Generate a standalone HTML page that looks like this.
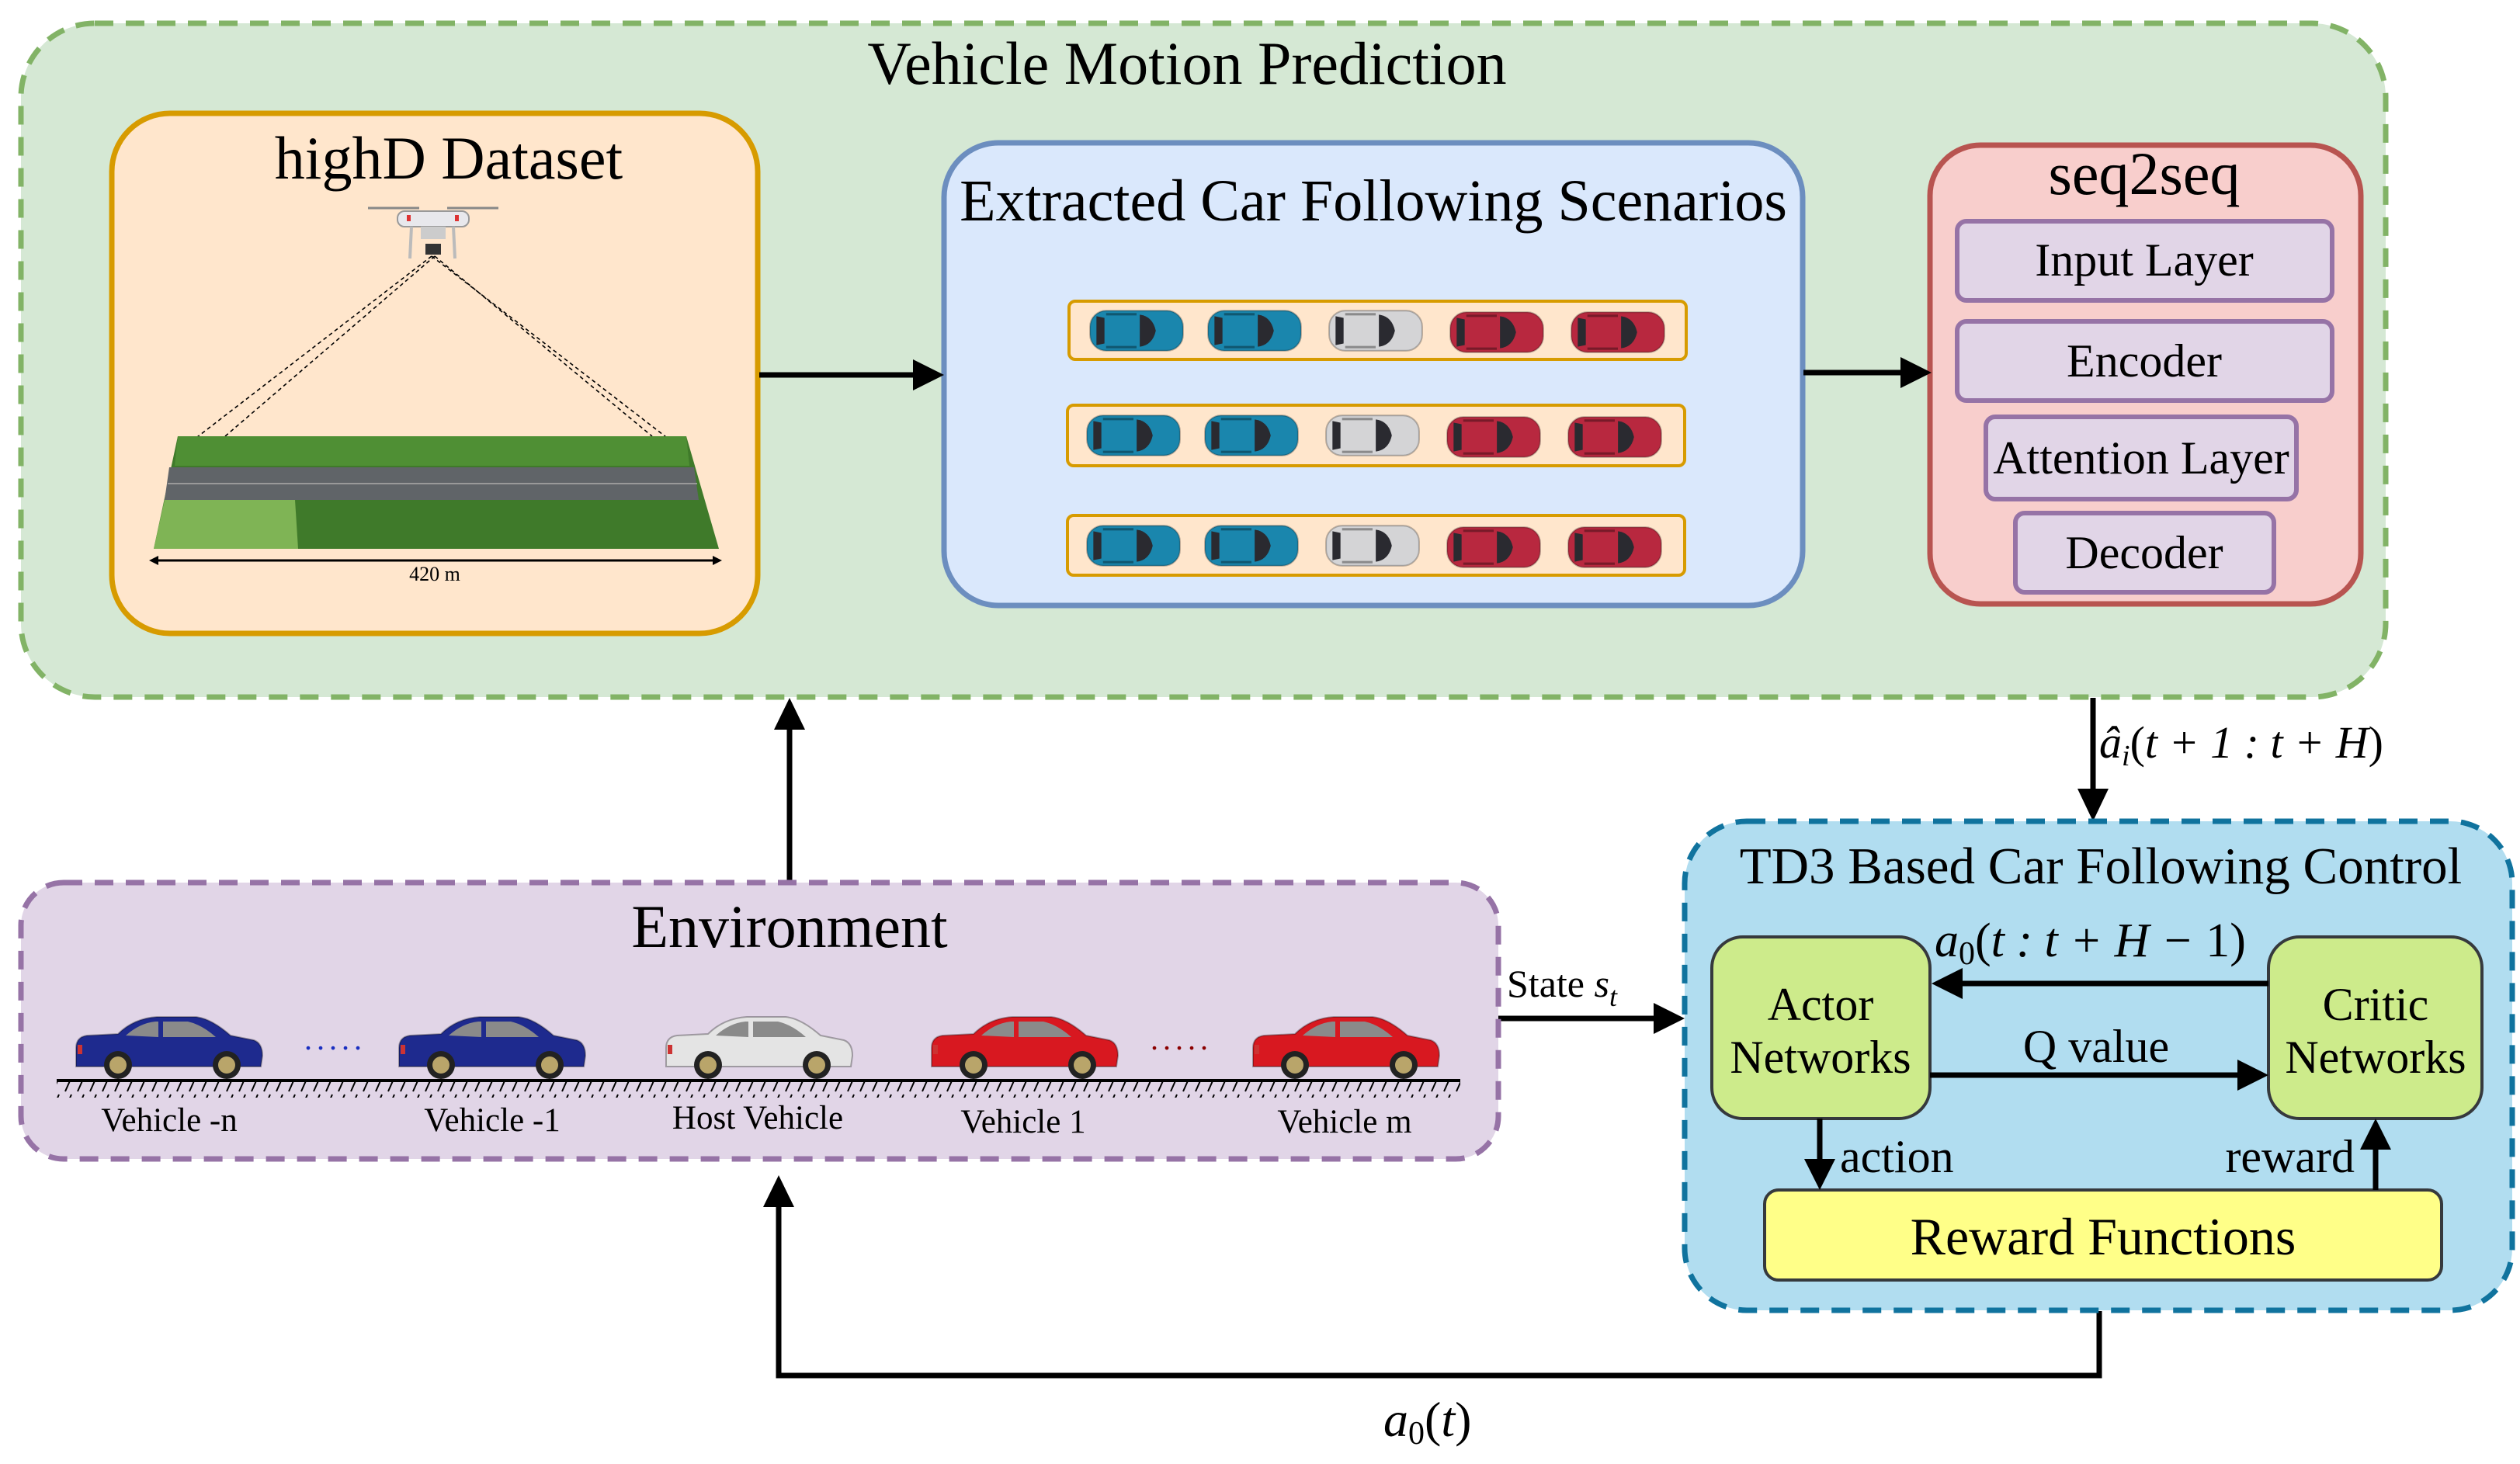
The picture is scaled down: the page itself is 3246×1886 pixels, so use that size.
<!DOCTYPE html>
<html><head><meta charset="utf-8"><style>
html,body{margin:0;padding:0;background:#fff}
svg{display:block}
text{font-family:"Liberation Serif",serif;fill:#000}
</style></head><body>
<svg width="3246" height="1886" viewBox="0 0 3246 1886" xmlns="http://www.w3.org/2000/svg">
<defs>
<symbol id="tcar" viewBox="0 0 120 56">
<rect x="2" y="3" width="116" height="50" rx="20" fill="currentColor"/>
<rect x="2" y="3" width="116" height="50" rx="20" fill="none" stroke="#000" stroke-opacity="0.25" stroke-width="2"/>
<path d="M64 8 Q80 10 84 28 Q80 46 64 48 Z" fill="#2a2a30"/>
<path d="M10 10 L20 12 L20 44 L10 46 Z" fill="#2a2a30"/>
<rect x="22" y="6" width="38" height="3" fill="#000" opacity="0.35"/>
<rect x="22" y="47" width="38" height="3" fill="#000" opacity="0.35"/>
</symbol>
<symbol id="scar" viewBox="0 0 250 84">
<path d="M6 44 Q6 30 20 28 L60 26 Q80 6 110 4 L160 4 Q180 6 205 28 L235 34 Q246 38 246 54 L244 68 L6 68 Z" fill="currentColor" stroke="#000" stroke-opacity="0.3" stroke-width="2"/>
<path d="M70 28 Q88 12 108 10 L112 10 L112 30 Z" fill="#8a8a8a"/>
<path d="M118 10 L150 10 Q168 14 186 30 L118 30 Z" fill="#8a8a8a"/>
<rect x="8" y="40" width="6" height="12" fill="#c33"/>
<circle cx="60" cy="66" r="18" fill="#222"/><circle cx="60" cy="66" r="11" fill="#b9a56a"/>
<circle cx="200" cy="66" r="18" fill="#222"/><circle cx="200" cy="66" r="11" fill="#b9a56a"/>
</symbol>
<pattern id="hatch" width="16" height="22" patternUnits="userSpaceOnUse">
<line x1="12" y1="2" x2="4" y2="20" stroke="#000" stroke-width="2"/>
</pattern>
</defs>

<!-- Green outer box -->
<rect x="27" y="30" width="3046" height="868" rx="95" fill="#d5e8d4" stroke="#82b366" stroke-width="7" stroke-dasharray="24 16"/>
<text x="1529" y="108" font-size="78" text-anchor="middle">Vehicle Motion Prediction</text>

<!-- highD -->
<rect x="144" y="146" width="832" height="670" rx="75" fill="#ffe6cc" stroke="#d79b00" stroke-width="7"/>
<text x="578" y="230" font-size="78" text-anchor="middle">highD Dataset</text>
<!-- drone -->
<g>
<line x1="474" y1="268" x2="540" y2="268" stroke="#888" stroke-width="3"/>
<line x1="576" y1="268" x2="642" y2="268" stroke="#888" stroke-width="3"/>
<rect x="512" y="272" width="92" height="20" rx="9" fill="#e8e8ec" stroke="#999" stroke-width="2"/>
<rect x="524" y="277" width="5" height="8" fill="#d33"/><rect x="586" y="277" width="5" height="8" fill="#d33"/>
<rect x="542" y="292" width="32" height="16" fill="#ccc"/>
<line x1="530" y1="292" x2="528" y2="333" stroke="#bbb" stroke-width="4"/>
<line x1="584" y1="292" x2="586" y2="333" stroke="#bbb" stroke-width="4"/>
<rect x="548" y="314" width="20" height="14" fill="#333"/>
</g>
<g stroke="#000" stroke-width="1.6" stroke-dasharray="5 4" fill="none">
<line x1="556" y1="330" x2="232" y2="580"/><line x1="560" y1="330" x2="290" y2="562"/>
<line x1="556" y1="330" x2="880" y2="580"/><line x1="560" y1="330" x2="840" y2="562"/>
</g>
<!-- highway aerial -->
<polygon points="229,562 884,562 926,707 198,707" fill="#3f7a2a"/>
<polygon points="229,562 884,562 888,600 225,600" fill="#4f8f34"/>
<polygon points="218,602 894,602 900,644 212,644" fill="#606468"/>
<line x1="216" y1="623" x2="898" y2="623" stroke="#999" stroke-width="2"/>
<polygon points="212,644 380,644 384,707 198,707" fill="#7fb455"/>
<line x1="196" y1="722" x2="926" y2="722" stroke="#000" stroke-width="3"/>
<polygon points="192,722 204,716 204,728" fill="#000"/><polygon points="930,722 918,716 918,728" fill="#000"/>
<text x="560" y="748" font-size="26" text-anchor="middle">420 m</text>

<!-- Extracted -->
<rect x="1216" y="184" width="1106" height="596" rx="70" fill="#dae8fc" stroke="#6c8ebf" stroke-width="7"/>
<text x="1769" y="284" font-size="76" text-anchor="middle">Extracted Car Following Scenarios</text>
<g fill="#ffe6cc" stroke="#d79b00" stroke-width="4">
<rect x="1377" y="388" width="795" height="75" rx="8"/>
<rect x="1375" y="522" width="795" height="78" rx="8"/>
<rect x="1375" y="664" width="795" height="77" rx="8"/>
</g>
<g>
<use href="#tcar" x="1402" y="397" width="124" height="58" color="#1a86ad"/>
<use href="#tcar" x="1554" y="397" width="124" height="58" color="#1a86ad"/>
<use href="#tcar" x="1710" y="397" width="124" height="58" color="#d4d4d6"/>
<use href="#tcar" x="1866" y="399" width="124" height="58" color="#b8283f"/>
<use href="#tcar" x="2022" y="399" width="124" height="58" color="#b8283f"/>
<use href="#tcar" x="1398" y="532" width="124" height="58" color="#1a86ad"/>
<use href="#tcar" x="1550" y="532" width="124" height="58" color="#1a86ad"/>
<use href="#tcar" x="1706" y="532" width="124" height="58" color="#d4d4d6"/>
<use href="#tcar" x="1862" y="534" width="124" height="58" color="#b8283f"/>
<use href="#tcar" x="2018" y="534" width="124" height="58" color="#b8283f"/>
<use href="#tcar" x="1398" y="674" width="124" height="58" color="#1a86ad"/>
<use href="#tcar" x="1550" y="674" width="124" height="58" color="#1a86ad"/>
<use href="#tcar" x="1706" y="674" width="124" height="58" color="#d4d4d6"/>
<use href="#tcar" x="1862" y="676" width="124" height="58" color="#b8283f"/>
<use href="#tcar" x="2018" y="676" width="124" height="58" color="#b8283f"/>
</g>

<!-- seq2seq -->
<rect x="2486" y="187" width="555" height="591" rx="65" fill="#f8cecc" stroke="#b85450" stroke-width="7"/>
<text x="2762" y="250" font-size="78" text-anchor="middle">seq2seq</text>
<g fill="#e1d5e7" stroke="#9673a6" stroke-width="6">
<rect x="2521" y="285" width="483" height="102" rx="12"/>
<rect x="2521" y="414" width="483" height="102" rx="12"/>
<rect x="2558" y="537" width="400" height="106" rx="12"/>
<rect x="2596" y="661" width="333" height="102" rx="12"/>
</g>
<g font-size="60" text-anchor="middle">
<text x="2762" y="355">Input Layer</text>
<text x="2762" y="485">Encoder</text>
<text x="2758" y="610">Attention Layer</text>
<text x="2762" y="732">Decoder</text>
</g>

<!-- arrows -->
<g stroke="#000" stroke-width="7" fill="none">
<line x1="978" y1="483" x2="1180" y2="483"/>
<line x1="2323" y1="480" x2="2452" y2="480"/>
<line x1="2696" y1="899" x2="2696" y2="1020"/>
<line x1="1017" y1="1136" x2="1017" y2="935"/>
<line x1="1930" y1="1312" x2="2135" y2="1312"/>
<polyline points="2704,1689 2704,1772 1003,1772 1003,1550"/>
</g>
<g fill="#000">
<polygon points="1216,483 1176,463 1176,503"/>
<polygon points="2488,480 2448,460 2448,500"/>
<polygon points="2696,1058 2676,1016 2716,1016"/>
<polygon points="1017,899 997,940 1037,940"/>
<polygon points="2170,1312 2130,1292 2130,1332"/>
<polygon points="1003,1514 983,1555 1023,1555"/>
</g>
<text x="2704" y="976" font-size="58" font-style="italic">â<tspan font-size="38" dy="10">i</tspan><tspan dy="-10" font-style="normal">(</tspan>t + 1 : t + H<tspan font-style="normal">)</tspan></text>
<text x="1941" y="1284" font-size="50">State <tspan font-style="italic">s</tspan><tspan font-style="italic" font-size="36" dy="12">t</tspan></text>
<text x="1782" y="1850" font-size="64" font-style="italic">a<tspan font-size="42" dy="10" font-style="normal">0</tspan><tspan dy="-10" font-style="normal">(</tspan>t<tspan font-style="normal">)</tspan></text>

<!-- Environment -->
<rect x="27" y="1137" width="1903" height="356" rx="55" fill="#e1d5e7" stroke="#9673a6" stroke-width="7" stroke-dasharray="24 16"/>
<text x="1017" y="1220" font-size="78" text-anchor="middle">Environment</text>
<rect x="73" y="1392" width="1808" height="22" fill="url(#hatch)"/>
<line x1="73" y1="1392" x2="1881" y2="1392" stroke="#000" stroke-width="4"/>
<use href="#scar" x="92" y="1306" width="250" height="84" color="#1e2a8e"/>
<use href="#scar" x="508" y="1306" width="250" height="84" color="#1e2a8e"/>
<use href="#scar" x="852" y="1306" width="250" height="84" color="#e4e4e4"/>
<use href="#scar" x="1194" y="1306" width="250" height="84" color="#d81820"/>
<use href="#scar" x="1608" y="1306" width="250" height="84" color="#d81820"/>
<text x="392" y="1352" font-size="40" style="fill:#1a2fc0;letter-spacing:6px">.....</text>
<text x="1482" y="1352" font-size="40" style="fill:#8b0000;letter-spacing:6px">.....</text>
<g font-size="43" text-anchor="middle">
<text x="218" y="1457">Vehicle -n</text>
<text x="634" y="1457">Vehicle -1</text>
<text x="976" y="1454">Host Vehicle</text>
<text x="1318" y="1459">Vehicle 1</text>
<text x="1732" y="1459">Vehicle m</text>
</g>

<!-- TD3 -->
<rect x="2170" y="1058" width="1066" height="630" rx="80" fill="#b1ddf0" stroke="#10739e" stroke-width="7" stroke-dasharray="24 16"/>
<text x="2706" y="1138" font-size="67" text-anchor="middle">TD3 Based Car Following Control</text>
<g fill="#cdeb8b" stroke="#36393d" stroke-width="4">
<rect x="2205" y="1207" width="281" height="234" rx="40"/>
<rect x="2922" y="1207" width="275" height="234" rx="40"/>
</g>
<rect x="2273" y="1533" width="872" height="116" rx="18" fill="#ffff88" stroke="#36393d" stroke-width="4"/>
<g font-size="60" text-anchor="middle">
<text x="2345" y="1314">Actor</text><text x="2345" y="1382">Networks</text>
<text x="3060" y="1314">Critic</text><text x="3060" y="1382">Networks</text>
<text x="2709" y="1616" font-size="68">Reward Functions</text>
<text x="2700" y="1368">Q value</text>
</g>
<g stroke="#000" stroke-width="7">
<line x1="2922" y1="1267" x2="2520" y2="1267"/>
<line x1="2486" y1="1385" x2="2888" y2="1385"/>
<line x1="2344" y1="1441" x2="2344" y2="1500"/>
<line x1="3060" y1="1533" x2="3060" y2="1475"/>
</g>
<g fill="#000">
<polygon points="2488,1267 2528,1247 2528,1287"/>
<polygon points="2922,1385 2882,1365 2882,1405"/>
<polygon points="2344,1533 2324,1493 2364,1493"/>
<polygon points="3060,1441 3040,1481 3080,1481"/>
</g>
<text x="2492" y="1232" font-size="62" font-style="italic">a<tspan font-size="42" dy="10" font-style="normal">0</tspan><tspan dy="-10" font-style="normal">(</tspan>t : t + H − <tspan font-style="normal">1)</tspan></text>
<text x="2370" y="1510" font-size="60">action</text>
<text x="3033" y="1510" font-size="60" text-anchor="end">reward</text>
</svg>
</body></html>
